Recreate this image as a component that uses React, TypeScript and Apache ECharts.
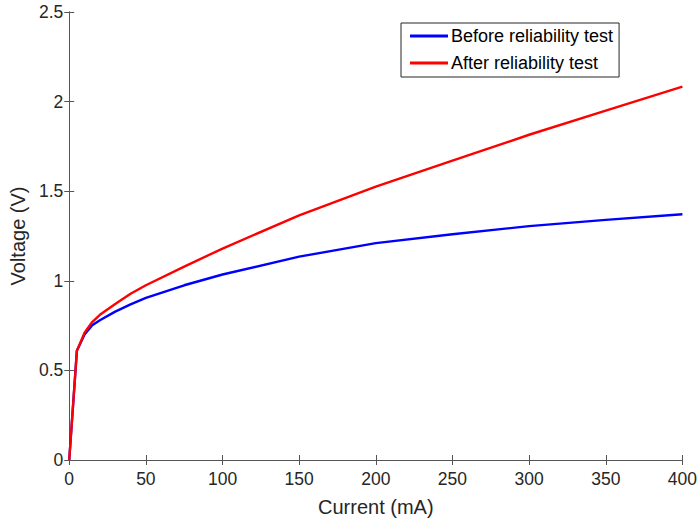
import React, { useEffect, useRef } from "react";
import * as echarts from "echarts";

const current = [0, 5, 10, 15, 20, 30, 40, 50, 75, 100, 150, 200, 250, 300, 350, 400];
const before = [0, 0.61, 0.7, 0.752, 0.78, 0.828, 0.868, 0.905, 0.975, 1.035, 1.135, 1.21, 1.26, 1.305, 1.34, 1.371];
const after = [0, 0.61, 0.71, 0.77, 0.81, 0.87, 0.928, 0.975, 1.079, 1.18, 1.365, 1.525, 1.67, 1.815, 1.95, 2.083];
const seriesNames = ["Before reliability test", "After reliability test"];
const xTitle = "Current (mA)";
const yTitle = "Voltage (V)";

const FONT = "'Liberation Sans', Arial, Helvetica, sans-serif";
const TXT = "#262626";
const AX = "#555555";

export default function App() {
  const ref = useRef<HTMLDivElement>(null);
  useEffect(() => {
    if (!ref.current) return;
    const chart = echarts.init(ref.current, null, { renderer: "svg" });
    const pairs = (ys: number[]) => current.map((x, i) => [x, ys[i]]);
    const axisLine = { show: true, lineStyle: { color: AX, width: 1 } };
    const tick = { show: true, inside: true, length: 5, lineStyle: { color: AX } };
    chart.setOption({
      animation: false,
      backgroundColor: "#ffffff",
      textStyle: { fontFamily: FONT },
      grid: { left: 69, top: 12, right: 16, bottom: 62, containLabel: false },
      legend: {
        orient: "vertical",
        left: 401,
        top: 23,
        padding: [2, 6, 3, 9],
        itemGap: 5,
        itemWidth: 38,
        itemHeight: 3,
        icon: "rect",
        borderColor: TXT,
        borderWidth: 1,
        borderRadius: 0,
        backgroundColor: "#ffffff",
        itemStyle: { borderWidth: 0 },
        textStyle: { fontFamily: FONT, fontSize: 18, lineHeight: 22, color: "#000000", padding: [0, 0, 0, -2] },
        data: seriesNames,
      },
      xAxis: [
        {
          type: "value",
          min: 0,
          max: 400,
          interval: 50,
          name: xTitle,
          nameLocation: "middle",
          nameGap: 37,
          nameTextStyle: { fontFamily: FONT, fontSize: 20, color: TXT },
          axisLine,
          axisTick: tick,
          axisLabel: { fontFamily: FONT, fontSize: 17.5, color: TXT, margin: 10 },
          splitLine: { show: false },
        },
        {
          type: "value",
          position: "top",
          min: 0,
          max: 400,
          interval: 50,
          axisLine,
          axisTick: tick,
          axisLabel: { show: false },
          splitLine: { show: false },
        },
      ],
      yAxis: [
        {
          type: "value",
          min: 0,
          max: 2.5,
          interval: 0.5,
          name: yTitle,
          nameLocation: "middle",
          nameGap: 37,
          nameTextStyle: { fontFamily: FONT, fontSize: 20, color: TXT },
          axisLine,
          axisTick: tick,
          axisLabel: { fontFamily: FONT, fontSize: 17.5, color: TXT, margin: 6 },
          splitLine: { show: false },
        },
        {
          type: "value",
          position: "right",
          min: 0,
          max: 2.5,
          interval: 0.5,
          axisLine,
          axisTick: tick,
          axisLabel: { show: false },
          splitLine: { show: false },
        },
      ],
      series: [
        {
          name: seriesNames[0],
          type: "line",
          data: pairs(before),
          symbol: "none",
          smooth: false,
          lineStyle: { color: "#0000ff", width: 2.4 },
          itemStyle: { color: "#0000ff" },
          z: 2,
        },
        {
          name: seriesNames[1],
          type: "line",
          data: pairs(after),
          symbol: "none",
          smooth: false,
          lineStyle: { color: "#ff0000", width: 2.4 },
          itemStyle: { color: "#ff0000" },
          z: 3,
        },
      ],
    });
    return () => chart.dispose();
  }, []);
  return (
    <div
      ref={ref}
      style={{ position: "absolute", left: 0, top: 0, width: 700, height: 522, background: "#fff" }}
    />
  );
}
